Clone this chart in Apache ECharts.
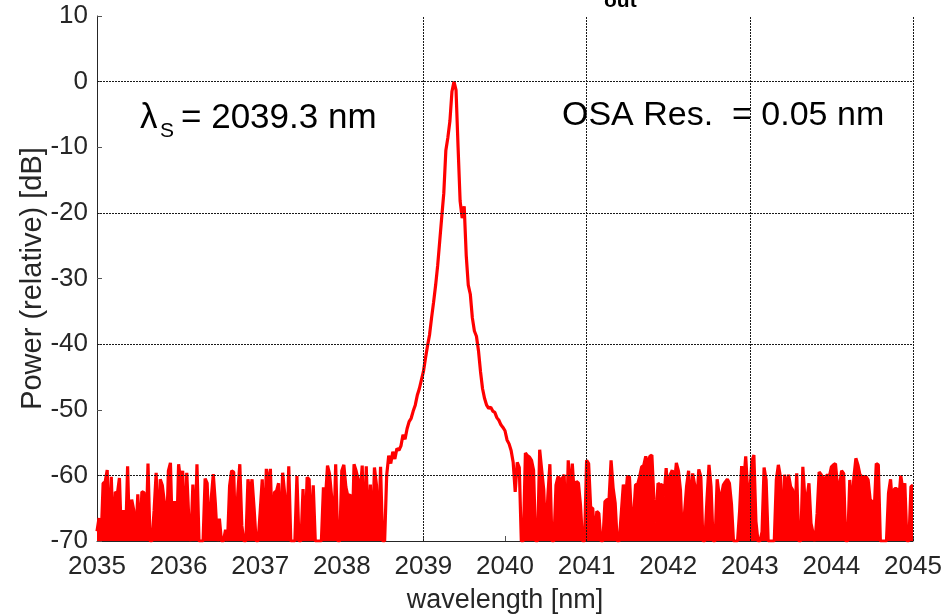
<!DOCTYPE html>
<html><head><meta charset="utf-8">
<script src="https://cdn.jsdelivr.net/npm/echarts@6/dist/echarts.min.js"></script>
<style>html,body{margin:0;padding:0;background:#fff;}#c{width:947px;height:616px;}</style>
</head><body><div id="c"></div>
<script>
// wavelength sampling of the trace (nm)
const wavelengthStart = 2035;
const wavelengthStep = 0.025;

// noise floor left of the signal (dB), 2035.000 ... 2038.525
const noiseLeft = [
-68.5,-66.5,-70,-61.2,-61,-59.2,-70,-60.2,-70,-62.5,
-62.8,-60.4,-70,-65.3,-70,-58.6,-70,-63.7,-65.3,-70,
-62.9,-70,-62.5,-62.6,-70,-58.2,-70,-70,-65.3,-59.6,
-70,-60.6,-61.5,-64,-70,-59.3,-58.1,-70,-63.9,-70,
-58.3,-60.9,-59.3,-70,-59.6,-66.6,-70,-61.4,-70,-58.3,
-70,-70,-70,-60.5,-61.2,-70,-63.5,-59.8,-64.2,-70,
-66.6,-70,-70,-68.3,-70,-61.6,-59.3,
-59.5,-70,-62.8,-58.3,-67.7,-70,-70,-60.6,-62.9,-60.6,
-65,-70,-70,-65.5,-60.6,-70,-59,-61.8,-59,-70,
-62.6,-62.4,-61.2,-70,-59.6,-62.8,-70,-58.6,-70,-70,
-70,-60.1,-70,-70,-62.1,-70,-60.3,-60.6,-70,-61.5,
-70,-70,-70,-70,-61.8,-63.5,-58.5,-59.8,-63.2,-70,
-58.3,-70,-70,-59.3,-58.4,-61.8,-63.2,-62.9,-70,-58.3,
-59.3,-60.6,-62.9,-58.5,-70,
-58.6,-70,-61.4,-70,-58.8,-61.5,-70,-58.7,-70,-70
];

// signal peak trace (dB), 2038.550 ... 2040.175
const peakTrace = [
-60,-57,-58.2,-56.4,-57.5,-55.9,-56.2,-55.5,-53.8,-54.5,
-52.9,-51.8,-51.3,-50.2,-49.3,-47.8,-46.8,-45.5,-44.2,-42.2,
-40.3,-38.6,-36,-33.6,-31,-28,-24.3,-20.6,-17,-10.5,
-8.5,-6,-1.5,0,-1.3,-10,-18.2,-20.8,-19,-26.5,
-31,-32.4,-36,-38,-38.8,-41,-44.2,-46.8,-48.3,-49.3,
-49.8,-49.6,-50.2,-50.4,-51.2,-51.6,-52.3,-52.7,-53.2,-54.6,
-55.2,-56.2,-58,-62.5,-58,-58.8
];

// noise floor right of the signal (dB), 2040.200 ... 2045.000
const noiseRight = [
-70,-70,-56.6,-57,-57.2,-57.7,-59.2,-70,-70,-56.1,
-59.2,-62.2,-70,-63.2,-58.3,-70,-70,-61.5,-60.2,-60.6,
-60.5,-59.9,-70,-57.7,-63.2,-58.2,-63.2,-60.9,-61.2,-64.5,
-70,-70,-57.7,-58.2,-65,-65,-70,-65.5,-65.8,-70,
-70,-64,-63.7,-63.7,-57.7,-61.9,-64.2,-70,-70,-65.8,
-61.4,-63.7,-60.2,-60.2,-66.5,-66.5,-61.4,-61.4,-60.2,-58.7,
-58.5,-57.1,-58.4,-57.1,
-56.9,-63.7,-67.2,-61.2,-61.5,-61.4,-63.2,-58.9,-63.2,-59.9,
-59.2,-61.5,-58.1,-59.3,-62.2,-70,-65.8,-61.7,-59.3,-65.5,
-59.7,-61.5,-64.3,-59.1,-60.2,-70,-70,-63.7,-58.4,-61.7,
-70,-70,-60.6,-63.1,-63.2,-61.5,-61,-60.6,-61.2,-64.3,
-70,-70,-70,-65.5,-58.6,-61.2,-57.1,-62.7,-62.7,-57.9,
-56.9,-67,-70,-70,-68.6,-58.8,-60.7,-70,-70,-70,
-70,-60.7,-58.4,-60.2,-70,-59.9,-62.2,
-59.9,-61.7,-62.2,-67,-59.7,-70,-70,-58.7,-63.5,-63.5,
-61.2,-67.3,-68.8,-70,-65.8,-59.5,-59.9,-60.5,-60.4,-59.9,
-60.2,-58.7,-58.4,-58.2,-61.7,-61.7,-59.3,-59.7,-70,-70,
-60.7,-65.3,-60.4,-57.4,-58.4,-59.9,-60.2,-60.2,-60.2,-60.7,
-63.7,-64,-65.3,-58.2,-58.4,-70,-70,-70,-70,-62.7,
-60.6,-64.8,-62,-62,-64,-60,-62.2,-61.2,-70,-70,
-61.7,-61.5
];

const xTickMin = 2035, xTickMax = 2045, xTickStep = 1;
const yTickMin = -70, yTickMax = 10, yTickStep = 10;
const xGridLines = [2039, 2041, 2043, 2045];
const yGridLines = [0, -20, -40, -60];

const power = noiseLeft.concat(peakTrace, noiseRight);
const trace = power.map((v, i) => [+(wavelengthStart + i * wavelengthStep).toFixed(3), v]);
const offR = noiseLeft.length + peakTrace.length;
const fillLeft = noiseLeft.map((v, i) => trace[i]);
const fillRight = noiseRight.map((v, i) => trace[offR + i]);

const FONT = "'Liberation Sans', Arial, sans-serif";
const RED = '#ff0000';
const chart = echarts.init(document.getElementById('c'), null, {renderer: 'canvas'});

const areaSeries = (d) => ({
  type: 'line', data: d, symbol: 'none', silent: true, animation: false,
  lineStyle: {width: 0, opacity: 0},
  areaStyle: {color: RED, opacity: 1, origin: 'start'}, z: 2
});

chart.setOption({
  animation: false,
  backgroundColor: '#ffffff',
  grid: {left: 97, right: 34, top: 16, bottom: 75, containLabel: false, outerBoundsMode: 'none'},
  xAxis: {
    type: 'value', min: xTickMin, max: xTickMax, interval: xTickStep,
    name: 'wavelength [nm]', nameLocation: 'middle', nameGap: 46, nameMoveOverlap: false,
    nameTextStyle: {fontFamily: FONT, fontSize: 27, color: '#262626'},
    axisLine: {show: true, onZero: false, lineStyle: {color: '#262626', width: 1}},
    axisTick: {show: true, inside: true, length: 5, lineStyle: {color: '#555'}},
    axisLabel: {fontFamily: FONT, fontSize: 26, color: '#262626', margin: 13, formatter: v => String(v)},
    splitLine: {show: false}
  },
  yAxis: {
    type: 'value', min: yTickMin, max: yTickMax, interval: yTickStep,
    name: 'Power (relative) [dB]', nameLocation: 'middle', nameGap: 50, nameMoveOverlap: false,
    nameTextStyle: {fontFamily: FONT, fontSize: 29, color: '#262626'},
    axisLine: {show: true, onZero: false, lineStyle: {color: '#262626', width: 1}},
    axisTick: {show: true, inside: true, length: 5, lineStyle: {color: '#555'}},
    axisLabel: {fontFamily: FONT, fontSize: 26, color: '#262626', margin: 9, formatter: v => String(v)},
    splitLine: {show: false}
  },
  series: [
    areaSeries(fillLeft),
    areaSeries(fillRight),
    {
      type: 'line', data: trace, symbol: 'none', silent: true, z: 3,
      lineStyle: {color: RED, width: 3.2},
      markLine: {
        silent: true, symbol: ['none', 'none'], z: 10,
        label: {show: false},
        lineStyle: {color: '#1a1a1a', width: 1, type: [2, 1]},
        data: xGridLines.map(v => ({xAxis: v})).concat(yGridLines.map(v => ({yAxis: v})))
      }
    }
  ],
  graphic: [
    {type: 'text', x: 140, y: 118, style: {text: 'λ', font: "35px 'Liberation Sans', Arial", fill: '#000', verticalAlign: 'middle'}},
    {type: 'text', x: 160, y: 131, style: {text: 'S', font: "21px 'Liberation Sans', Arial", fill: '#000', verticalAlign: 'middle'}},
    {type: 'text', x: 181, y: 118, style: {text: '= 2039.3 nm', font: "35px 'Liberation Sans', Arial", fill: '#000', verticalAlign: 'middle'}},
    {type: 'text', x: 562, y: 116, style: {text: 'OSA Res.  = 0.05 nm', font: "34px 'Liberation Sans', Arial", fill: '#000', verticalAlign: 'middle'}},
    {type: 'text', x: 604, y: 12, style: {text: 'out', font: "bold 21px 'Liberation Sans', Arial", fill: '#000', verticalAlign: 'bottom'}}
  ]
});
</script>
</body></html>
